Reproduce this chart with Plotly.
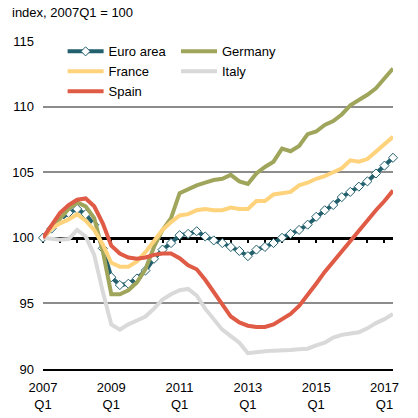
import plotly.graph_objects as go

# Quarters from 2007Q1 to 2017Q2, index 0..41
quarters = list(range(42))

euro_area = [100.0, 100.7, 101.4, 101.9, 102.2, 101.8, 101.0, 99.2, 97.0, 96.4,
             96.5, 96.9, 97.5, 98.4, 99.1, 99.6, 100.2, 100.3, 100.5, 100.1,
             99.8, 99.6, 99.3, 99.0, 98.6, 99.1, 99.3, 99.6, 100.0, 100.3,
             100.6, 101.0, 101.6, 102.1, 102.5, 103.1, 103.5, 103.9, 104.3, 104.9,
             105.5, 106.1]
germany = [100.0, 100.7, 101.5, 102.2, 102.7, 102.4, 101.5, 99.0, 95.7, 95.7,
           96.0, 96.6, 97.6, 99.3, 100.6, 101.5, 103.4, 103.7, 104.0, 104.2,
           104.4, 104.5, 104.8, 104.3, 104.1, 104.9, 105.4, 105.8, 106.8, 106.6,
           107.0, 107.9, 108.1, 108.6, 108.9, 109.4, 110.1, 110.5, 110.9, 111.4,
           112.2, 112.9]
france = [100.0, 100.7, 101.1, 101.4, 101.8, 101.3, 100.6, 99.5, 98.1, 97.8,
          97.8, 98.2, 98.9, 99.8, 100.6, 101.2, 101.7, 101.8, 102.1, 102.2,
          102.1, 102.1, 102.3, 102.2, 102.2, 102.8, 102.8, 103.3, 103.4, 103.5,
          104.0, 104.2, 104.5, 104.7, 105.0, 105.3, 105.9, 105.8, 106.0, 106.6,
          107.1, 107.7]
italy = [100.0, 99.9, 99.85, 99.9, 100.6, 100.1, 98.7, 95.9, 93.4, 93.0,
         93.4, 93.7, 94.0, 94.6, 95.3, 95.7, 96.0, 96.1, 95.6, 94.6,
         93.8, 93.0, 92.5, 92.0, 91.2, 91.3, 91.35, 91.4, 91.4, 91.45,
         91.5, 91.55, 91.8, 92.0, 92.4, 92.6, 92.7, 92.8, 93.1, 93.5,
         93.8, 94.2]
spain = [100.0, 101.0, 101.9, 102.5, 102.9, 103.0, 102.4, 101.1, 99.4, 98.8,
         98.5, 98.4, 98.5, 98.7, 98.8, 98.8, 98.45, 97.9, 97.6, 96.8,
         95.9, 94.9, 94.0, 93.55, 93.3, 93.2, 93.2, 93.4, 93.8, 94.2,
         94.8, 95.6, 96.5, 97.4, 98.2, 98.9, 99.7, 100.5, 101.3, 102.1,
         102.8, 103.6]

tick_pos = [0, 8, 16, 24, 32, 40]
tick_text = ['2007<br>Q1', '2009<br>Q1', '2011<br>Q1', '2013<br>Q1', '2015<br>Q1', '2017<br>Q1']

font_name = 'Liberation Sans, Arial, sans-serif'

fig = go.Figure()

# Euro area with diamond markers
fig.add_trace(go.Scatter(
    x=quarters, y=euro_area, name='Euro area', mode='lines+markers',
    line=dict(color='#23606E', width=4),
    marker=dict(symbol='diamond', size=7, color='white',
                line=dict(color='#23606E', width=1)),
    cliponaxis=False, legend='legend',
))
fig.add_trace(go.Scatter(
    x=quarters, y=germany, name='Germany', mode='lines',
    line=dict(color='#A0A55C', width=4), legend='legend2',
))
fig.add_trace(go.Scatter(
    x=quarters, y=france, name='France', mode='lines',
    line=dict(color='#FFD37C', width=4), legend='legend',
))
fig.add_trace(go.Scatter(
    x=quarters, y=italy, name='Italy', mode='lines',
    line=dict(color='#D9D9D9', width=4), legend='legend2',
))
fig.add_trace(go.Scatter(
    x=quarters, y=spain, name='Spain', mode='lines',
    line=dict(color='#E05B45', width=4), legend='legend',
))

# two legend columns
legend_style = dict(
    y=1.014, xanchor='left', yanchor='top', itemwidth=36,
    bgcolor='rgba(255,255,255,0.5)', font=dict(size=13), tracegroupgap=0,
)

fig.update_layout(
    width=418, height=418,
    margin=dict(l=38, r=25, t=41, b=49),
    plot_bgcolor='white', paper_bgcolor='white',
    font=dict(family=font_name, size=13, color='black'),
    showlegend=True,
    legend=dict(x=0.056, **legend_style),
    legend2=dict(x=0.38, **legend_style),
    xaxis=dict(
        range=[0, 41], tickvals=tick_pos, ticktext=tick_text,
        showgrid=False, zeroline=False, showline=True,
        linecolor='black', linewidth=1.5, ticks='',
        ticklabelstandoff=6, tickfont=dict(size=13), automargin=False,
    ),
    # Axis drawn at 100 with half-yearly ticks
    xaxis2=dict(
        overlaying='x', matches='x', anchor='free', position=0.4,
        showline=True, linecolor='black', linewidth=3,
        ticks='outside', ticklen=3, tickwidth=2, tickcolor='black',
        tick0=0, dtick=2, showticklabels=False, showgrid=False,
        zeroline=False, layer='below traces',
    ),
    yaxis=dict(
        range=[90, 115], dtick=5, showgrid=True,
        gridcolor='#8C8C8C', gridwidth=1.5, zeroline=False,
        ticks='', ticklabelstandoff=8, tickfont=dict(size=13),
    ),
    annotations=[dict(
        text='index, 2007Q1 = 100', xref='paper', yref='paper',
        x=-0.093, y=1.088, xanchor='left', yanchor='middle',
        showarrow=False, font=dict(size=13),
    )],
)

# dummy invisible trace so the axis at 100 is drawn
fig.add_trace(go.Scatter(
    x=[0, 41], y=[100, 100], xaxis='x2', mode='lines',
    line=dict(width=0), showlegend=False, hoverinfo='skip',
))

# drop the default page margin so the figure sits at the window corner
fig.write_html("out.html", config={'displayModeBar': False},
               post_script="document.body.style.margin='0';")
